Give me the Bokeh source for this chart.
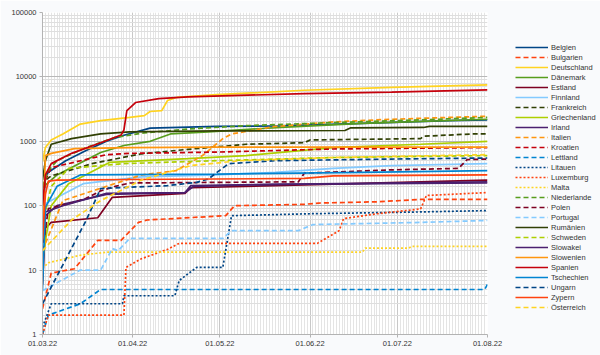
import datetime as dt
from bokeh.plotting import figure
from bokeh.models import (Legend, LegendItem, FixedTicker, Range1d,
                          DatetimeTickFormatter, NumeralTickFormatter)
from bokeh.embed import file_html
from bokeh.resources import INLINE

START = dt.datetime(2022, 3, 1)
END = dt.datetime(2022, 8, 1)

countries = ["Belgien", "Bulgarien", "Deutschland", "Dänemark", "Estland", "Finnland",
             "Frankreich", "Griechenland", "Irland", "Italien", "Kroatien", "Lettland",
             "Litauen", "Luxemburg", "Malta", "Niederlande", "Polen", "Portugal",
             "Rumänien", "Schweden", "Slowakei", "Slowenien", "Spanien", "Tschechien",
             "Ungarn", "Zypern", "Österreich"]

palette = ["#004586", "#ff420e", "#ffd320", "#579d1c", "#7e0021", "#83caff",
           "#314004", "#aecf00", "#4b1f6f", "#ff950e", "#c5000b", "#0084d1"]
styles = ["solid", "dashed", "solid", "solid", "solid", "solid",
          "dashed", "solid", "solid", "dashed", "dashed", "dashed",
          "dotted", "dotted", "dotted", "dashed", "dashed", "dashed",
          "solid", "dashed", "solid", "solid", "solid", "solid",
          "dashed", "solid", "dashed"]

# day offsets from 01.03.22 and cumulative values
be_d = [0, 1, 2, 8, 15, 22, 28, 37, 60, 82, 110, 140, 153]
be_v = [60, 280, 330, 500, 720, 1000, 1240, 1600, 1700, 1740, 1900, 2100, 2150]
bg_d = [0, 3, 11, 19, 27, 33, 36, 63, 66, 90, 95, 115, 130, 153]
bg_v = [2.5, 9, 10.5, 29, 29, 55, 60, 70, 100, 105, 110, 115, 125, 125]
de_d = [0, 1, 3, 7, 13, 20, 30, 35, 37, 41, 43, 46, 60, 90, 120, 153]
de_v = [480, 800, 1050, 1300, 1850, 2100, 2350, 2500, 2900, 3000, 4300, 4800, 5300, 6200, 6900, 7500]
dk_d = [0, 5, 20, 28, 37, 44, 57, 82, 110, 153]
dk_v = [190, 300, 670, 860, 1000, 1300, 1400, 1650, 1900, 2200]
ee_d = [0, 1, 3, 19, 24, 49, 51, 80, 153]
ee_v = [6, 45, 55, 65, 135, 155, 190, 205, 250]
fi_d = [0, 1, 14, 34, 60, 80, 100, 120, 153]
fi_v = [20, 108, 220, 280, 300, 330, 380, 420, 450]
fr_d = [0, 1, 3, 17, 34, 50, 70, 90, 92, 130, 131, 148, 153]
fr_v = [150, 250, 290, 450, 640, 750, 900, 950, 1050, 1100, 1200, 1300, 1300]
gr_d = [0, 3, 9, 23, 50, 70, 100, 130, 153]
gr_v = [15, 100, 220, 470, 540, 600, 800, 900, 1000]
ie_d = [0, 1, 5, 22, 49, 52, 80, 153]
ie_v = [30, 70, 100, 150, 160, 200, 215, 235]
it_d = [0, 7, 34, 46, 55, 62, 65, 80, 100, 120, 153]
it_v = [20, 120, 300, 350, 600, 1100, 1300, 1700, 2000, 2200, 2450]
hr_d = [0, 1, 3, 22, 30, 60, 100, 153]
hr_v = [80, 250, 390, 620, 650, 680, 760, 800]
lv_d = [0, 2, 13, 20, 22, 152, 153]
lv_v = [1, 2, 3, 5, 5, 5, 6]
lt_d = [0, 3, 27.5, 28, 45.5, 47, 53, 62, 65, 92, 130, 153]
lt_v = [1.3, 3, 3, 4, 4, 6.9, 11, 11, 70, 75, 80, 84]
lu_d = [0, 2, 28, 28.7, 34, 43, 47, 94.5, 102, 103.5, 115, 130, 132, 153]
lu_v = [1, 2, 2, 11, 15, 21, 26, 26, 41, 63, 75, 89, 144, 160]
mt_d = [0, 2, 13, 22, 110, 111, 126, 127, 153]
mt_v = [10.6, 13, 17, 19, 19, 22, 22, 23.4, 23.4]
nl_d = [0, 2, 5, 15, 25, 35, 50, 70, 100, 130, 153]
nl_v = [200, 350, 500, 800, 1150, 1350, 1550, 1750, 1950, 2150, 2350]
pl_d = [0, 2, 10, 15, 20, 25, 30, 88, 90, 120, 143, 146, 153]
pl_v = [20, 90, 110, 130, 170, 200, 225, 235, 320, 360, 380, 520, 530]
pt_d = [0, 13, 20, 24, 26, 30, 32, 62, 65, 88, 93, 130, 153]
pt_v = [4.8, 10, 10, 21.6, 20, 31, 31, 31, 41, 41, 51, 55, 59]
ro_d = [0, 1, 3, 10, 20, 30, 60, 104, 106, 131, 133, 153]
ro_v = [250, 500, 900, 1100, 1300, 1400, 1450, 1470, 1620, 1640, 1700, 1700]
se_d = [0, 3, 9, 28, 60, 100, 153]
se_v = [50, 200, 380, 450, 500, 560, 600]
sk_d = [0, 1, 7, 22, 49, 51, 80, 153]
sk_v = [40, 80, 100, 155, 160, 205, 215, 225]
si_d = [0, 1, 3, 11, 30, 60, 100, 153]
si_v = [30, 600, 650, 770, 800, 810, 810, 810]
es_d = [0, 1, 3, 10, 20, 27, 28, 29, 32, 40, 50, 90, 120, 153]
es_v = [100, 300, 450, 650, 950, 1250, 1500, 3000, 4000, 4600, 4900, 5500, 5800, 6300]
cz_d = [0, 1, 5, 13, 60, 110, 153]
cz_v = [5, 95, 200, 300, 310, 330, 350]
hu_d = [0, 15, 20, 43, 53, 57, 64, 80, 120, 153]
hu_v = [3, 59, 185, 205, 230, 260, 450, 500, 530, 550]
cy_d = [0, 1, 2, 5, 30, 90, 100, 153]
cy_v = [30, 150, 240, 250, 255, 265, 290, 300]
at_d = [0, 10, 20, 34, 51, 68, 100, 153]
at_v = [20, 60, 120, 250, 420, 500, 560, 620]

series = [(be_d, be_v), (bg_d, bg_v), (de_d, de_v), (dk_d, dk_v), (ee_d, ee_v),
          (fi_d, fi_v), (fr_d, fr_v), (gr_d, gr_v), (ie_d, ie_v), (it_d, it_v),
          (hr_d, hr_v), (lv_d, lv_v), (lt_d, lt_v), (lu_d, lu_v), (mt_d, mt_v),
          (nl_d, nl_v), (pl_d, pl_v), (pt_d, pt_v), (ro_d, ro_v), (se_d, se_v),
          (sk_d, sk_v), (si_d, si_v), (es_d, es_v), (cz_d, cz_v), (hu_d, hu_v),
          (cy_d, cy_v), (at_d, at_v)]

y_ticks = [1, 10, 100, 1000, 10000, 100000]


def ms(t):
    return (t - dt.datetime(1970, 1, 1)).total_seconds() * 1000.0


month_ticks = [ms(dt.datetime(2022, m, 1)) for m in range(3, 9)]
n_days = (END - START).days
day_ticks = [ms(START + dt.timedelta(days=i)) for i in range(n_days + 1)]
y_minor = [k * 10 ** e for e in range(5) for k in range(2, 10)]

p = figure(x_axis_type="datetime", y_axis_type="log",
           x_range=Range1d(START, END), y_range=Range1d(1, 100000),
           frame_width=445, frame_height=322,
           min_border_left=42, min_border_right=113, min_border_top=12, min_border_bottom=21,
           output_backend="svg", toolbar_location=None)
p.border_fill_color = "#f9fafc"
p.background_fill_color = "#ffffff"
p.outline_line_color = None

xt = FixedTicker(ticks=month_ticks, minor_ticks=day_ticks)
yt = FixedTicker(ticks=y_ticks, minor_ticks=y_minor)
p.xaxis.ticker = xt
p.yaxis.ticker = yt
p.xgrid.ticker = xt
p.ygrid.ticker = yt
p.xaxis.formatter = DatetimeTickFormatter(days="%d.%m.%y", months="%d.%m.%y",
                                          years="%d.%m.%y")
p.yaxis.formatter = NumeralTickFormatter(format="0")

for ax in (p.xaxis, p.yaxis):
    ax.axis_line_color = "#b3b3b3"
    ax.major_tick_line_color = "#b3b3b3"
    ax.major_tick_out = 3
    ax.major_tick_in = 0
    ax.minor_tick_line_color = None
    ax.major_label_text_font = "Liberation Sans"
    ax.major_label_text_font_size = "7.5px"
    ax.major_label_text_color = "#333333"
    ax.major_label_standoff = 2

p.xgrid.grid_line_color = "#c8c8c8"
p.ygrid.grid_line_color = "#b8b8b8"
p.xgrid.minor_grid_line_color = "#e4e4e4"
p.ygrid.minor_grid_line_color = "#dedede"

dash_map = {"solid": "solid", "dashed": "5 3", "dotted": "2 2"}
items = []
for i, (name, (d, v)) in enumerate(zip(countries, series)):
    xs = [START + dt.timedelta(days=x) for x in d]
    r = p.line(xs, v, line_color=palette[i % 12], line_width=1.7,
               line_dash=dash_map[styles[i]])
    items.append(LegendItem(label=name, renderers=[r]))

legend = Legend(items=items, location=(28, 22), margin=0, padding=0, spacing=0,
                label_height=10, glyph_height=10, glyph_width=33, label_standoff=3,
                label_text_font="Liberation Sans", label_text_font_size="7.5px",
                label_text_color="#333333", border_line_color=None,
                background_fill_alpha=0)
p.add_layout(legend, "right")

open("out.html", "w").write(file_html(p, INLINE))
